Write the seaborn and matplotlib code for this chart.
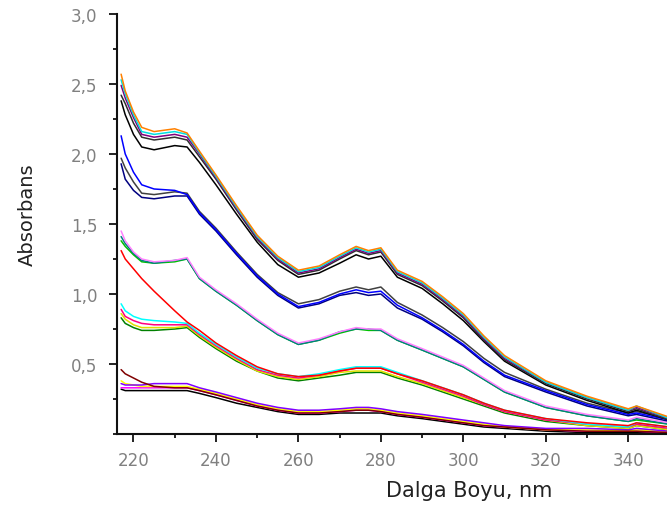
import pandas as pd
import seaborn as sns
import matplotlib
import matplotlib.pyplot as plt
from matplotlib.ticker import MultipleLocator

matplotlib.use("Agg")

# ─── data ─────────────────────────────────────────────────────────
WL = [217, 218, 220, 222, 225, 230, 233, 236, 240, 245, 250, 255, 260, 265, 270,
      274, 277, 280, 284, 290, 295, 300, 305, 310, 320, 330, 340, 342, 350]

# lowest group (~0.3-0.45 at 217 nm)
black_e   = [0.32, 0.31, 0.31, 0.31, 0.31, 0.31, 0.31, 0.29, 0.26, 0.22, 0.19, 0.16, 0.14, 0.14, 0.15,
             0.15, 0.15, 0.15, 0.13, 0.11, 0.09, 0.07, 0.05, 0.04, 0.02, 0.01, 0.01, 0.01, 0.01]
magenta_e = [0.33, 0.33, 0.33, 0.33, 0.33, 0.33, 0.33, 0.31, 0.28, 0.24, 0.20, 0.17, 0.15, 0.15, 0.16,
             0.17, 0.17, 0.16, 0.14, 0.12, 0.10, 0.08, 0.06, 0.05, 0.03, 0.02, 0.02, 0.02, 0.01]
yellow_e  = [0.38, 0.36, 0.35, 0.34, 0.34, 0.34, 0.34, 0.32, 0.29, 0.25, 0.21, 0.18, 0.16, 0.16, 0.17,
             0.18, 0.18, 0.17, 0.15, 0.13, 0.11, 0.09, 0.07, 0.05, 0.03, 0.03, 0.02, 0.03, 0.02]
violet_e  = [0.36, 0.35, 0.35, 0.35, 0.36, 0.36, 0.36, 0.33, 0.30, 0.26, 0.22, 0.19, 0.17, 0.17, 0.18,
             0.19, 0.19, 0.18, 0.16, 0.14, 0.12, 0.10, 0.08, 0.06, 0.04, 0.04, 0.03, 0.04, 0.02]
brown_e   = [0.46, 0.43, 0.40, 0.37, 0.34, 0.33, 0.33, 0.31, 0.28, 0.24, 0.20, 0.17, 0.15, 0.15, 0.16,
             0.17, 0.17, 0.16, 0.14, 0.12, 0.10, 0.08, 0.06, 0.05, 0.03, 0.02, 0.02, 0.02, 0.01]

# ~0.9 group
green_d   = [0.83, 0.79, 0.76, 0.74, 0.74, 0.75, 0.76, 0.69, 0.61, 0.52, 0.45, 0.40, 0.38, 0.40, 0.42,
             0.44, 0.44, 0.44, 0.40, 0.35, 0.30, 0.25, 0.20, 0.15, 0.09, 0.06, 0.04, 0.06, 0.03]
yellow_d  = [0.86, 0.82, 0.78, 0.76, 0.76, 0.76, 0.77, 0.70, 0.62, 0.53, 0.45, 0.41, 0.39, 0.41, 0.44,
             0.45, 0.45, 0.45, 0.41, 0.36, 0.31, 0.26, 0.21, 0.16, 0.10, 0.06, 0.04, 0.06, 0.03]
magenta_d = [0.89, 0.84, 0.81, 0.79, 0.78, 0.78, 0.78, 0.71, 0.63, 0.54, 0.46, 0.42, 0.40, 0.42, 0.45,
             0.47, 0.47, 0.47, 0.43, 0.37, 0.32, 0.27, 0.21, 0.16, 0.10, 0.07, 0.05, 0.07, 0.04]
cyan_d    = [0.93, 0.88, 0.84, 0.82, 0.81, 0.80, 0.79, 0.72, 0.64, 0.55, 0.47, 0.43, 0.41, 0.43, 0.46,
             0.48, 0.48, 0.48, 0.44, 0.38, 0.33, 0.28, 0.22, 0.17, 0.11, 0.07, 0.05, 0.08, 0.05]
red       = [1.31, 1.25, 1.18, 1.11, 1.02, 0.88, 0.80, 0.74, 0.65, 0.56, 0.48, 0.43, 0.41, 0.42, 0.45,
             0.47, 0.47, 0.47, 0.43, 0.38, 0.33, 0.28, 0.22, 0.17, 0.11, 0.08, 0.06, 0.08, 0.05]

# ~1.4 group
green_c   = [1.38, 1.34, 1.28, 1.23, 1.22, 1.23, 1.25, 1.11, 1.02, 0.92, 0.81, 0.71, 0.64, 0.67, 0.72,
             0.75, 0.74, 0.74, 0.67, 0.60, 0.54, 0.48, 0.39, 0.30, 0.19, 0.13, 0.09, 0.10, 0.07]
teal_c    = [1.41, 1.36, 1.29, 1.24, 1.22, 1.24, 1.25, 1.11, 1.02, 0.92, 0.81, 0.71, 0.64, 0.67, 0.73,
             0.75, 0.75, 0.74, 0.67, 0.60, 0.54, 0.48, 0.39, 0.30, 0.19, 0.13, 0.09, 0.11, 0.07]
pink_c    = [1.45, 1.38, 1.30, 1.25, 1.23, 1.24, 1.26, 1.12, 1.03, 0.93, 0.82, 0.72, 0.65, 0.68, 0.73,
             0.76, 0.75, 0.75, 0.68, 0.61, 0.55, 0.49, 0.40, 0.31, 0.20, 0.14, 0.10, 0.12, 0.08]

# ~2.0 group
navy_b    = [1.93, 1.82, 1.74, 1.69, 1.68, 1.70, 1.70, 1.57, 1.45, 1.28, 1.12, 0.99, 0.90, 0.93, 0.99,
             1.01, 0.99, 1.00, 0.90, 0.82, 0.73, 0.63, 0.51, 0.41, 0.30, 0.20, 0.13, 0.14, 0.09]
gray_b    = [1.97, 1.90, 1.80, 1.72, 1.71, 1.73, 1.72, 1.59, 1.47, 1.30, 1.14, 1.01, 0.93, 0.96, 1.02,
             1.05, 1.03, 1.05, 0.94, 0.85, 0.76, 0.66, 0.54, 0.44, 0.32, 0.22, 0.15, 0.16, 0.11]
blue_b    = [2.13, 2.00, 1.87, 1.78, 1.75, 1.74, 1.71, 1.58, 1.46, 1.29, 1.13, 1.00, 0.91, 0.94, 1.00,
             1.03, 1.01, 1.02, 0.92, 0.83, 0.74, 0.64, 0.52, 0.42, 0.31, 0.21, 0.14, 0.15, 0.10]

# top group (~2.5)
black_a2  = [2.38, 2.28, 2.14, 2.05, 2.03, 2.06, 2.05, 1.94, 1.78, 1.57, 1.37, 1.21, 1.12, 1.15, 1.22,
             1.28, 1.25, 1.27, 1.12, 1.04, 0.93, 0.81, 0.66, 0.52, 0.35, 0.24, 0.15, 0.17, 0.10]
black_a1  = [2.42, 2.36, 2.22, 2.12, 2.10, 2.12, 2.10, 1.98, 1.82, 1.60, 1.39, 1.24, 1.14, 1.17, 1.25,
             1.31, 1.28, 1.30, 1.14, 1.06, 0.95, 0.83, 0.67, 0.53, 0.36, 0.25, 0.16, 0.18, 0.10]
purple_a  = [2.49, 2.40, 2.26, 2.14, 2.12, 2.14, 2.12, 2.00, 1.83, 1.61, 1.40, 1.25, 1.15, 1.18, 1.26,
             1.32, 1.29, 1.31, 1.15, 1.07, 0.96, 0.84, 0.68, 0.54, 0.37, 0.26, 0.17, 0.19, 0.11]
cyan_a    = [2.53, 2.43, 2.28, 2.16, 2.14, 2.16, 2.14, 2.01, 1.84, 1.62, 1.41, 1.26, 1.16, 1.19, 1.27,
             1.33, 1.30, 1.32, 1.16, 1.08, 0.97, 0.85, 0.69, 0.55, 0.37, 0.26, 0.17, 0.20, 0.11]
orange_a  = [2.57, 2.45, 2.30, 2.19, 2.16, 2.18, 2.15, 2.02, 1.85, 1.63, 1.42, 1.27, 1.17, 1.20, 1.28,
             1.34, 1.31, 1.33, 1.17, 1.09, 0.98, 0.86, 0.70, 0.56, 0.38, 0.27, 0.18, 0.20, 0.12]

X_TICKS = [220, 240, 260, 280, 300, 320, 340]
Y_TICKS = [0.5, 1.0, 1.5, 2.0, 2.5, 3.0]
Y_TICK_LABELS = ["0,5", "1,0", "1,5", "2,0", "2,5", "3,0"]

# ─── curves & colours (drawing order: bottom to top) ──────────────
SERIES = {
    "black_e": (black_e, "#000000"), "magenta_e": (magenta_e, "#FF00FF"),
    "yellow_e": (yellow_e, "#FFFF00"), "violet_e": (violet_e, "#8000FF"),
    "brown_e": (brown_e, "#800000"),
    "green_d": (green_d, "#008000"), "yellow_d": (yellow_d, "#E0E000"),
    "magenta_d": (magenta_d, "#FF0080"), "cyan_d": (cyan_d, "#00FFFF"),
    "red": (red, "#FF0000"),
    "green_c": (green_c, "#00C000"), "teal_c": (teal_c, "#008080"),
    "pink_c": (pink_c, "#FF80FF"),
    "navy_b": (navy_b, "#000080"), "gray_b": (gray_b, "#404040"),
    "blue_b": (blue_b, "#0000FF"),
    "black_a2": (black_a2, "#000000"), "black_a1": (black_a1, "#303030"),
    "purple_a": (purple_a, "#800080"), "cyan_a": (cyan_a, "#00E0E0"),
    "orange_a": (orange_a, "#FF8000"),
}

df = pd.concat(
    [pd.DataFrame({"nm": WL, "abs": vals, "curve": name}) for name, (vals, _) in SERIES.items()],
    ignore_index=True,
)
ORDER = list(SERIES)
PALETTE = {name: col for name, (_, col) in SERIES.items()}

# ─── style ────────────────────────────────────────────────────────
sns.set_style("ticks")
plt.rcParams["font.family"] = ["DejaVu Sans"]

fig = plt.figure(figsize=(6.67, 5.06), dpi=100)
ax = fig.add_axes([0.1754, 0.1403, 0.8246, 0.8301])

sns.lineplot(data=df, x="nm", y="abs", hue="curve", hue_order=ORDER, palette=PALETTE,
             estimator=None, sort=False, linewidth=1.1, legend=False, ax=ax)

ax.set_xlim(216, 349.4)
ax.set_ylim(0, 3.0)
ax.set_xticks(X_TICKS)
ax.xaxis.set_minor_locator(MultipleLocator(10))
ax.set_yticks(Y_TICKS, Y_TICK_LABELS)
ax.yaxis.set_minor_locator(MultipleLocator(0.25))

sns.despine(ax=ax)
for side in ("left", "bottom"):
    ax.spines[side].set_linewidth(1.5)
    ax.spines[side].set_color("#111111")

ax.tick_params(which="major", length=6, width=1.3, color="#111111",
               labelsize=12, labelcolor="#808080")
ax.tick_params(which="minor", length=3, width=1.3, color="#111111")
ax.tick_params(axis="x", which="major", pad=6)
ax.tick_params(axis="y", which="major", pad=8)

ax.set_xlabel("Dalga Boyu, nm", fontsize=15, color="#222222")
ax.set_ylabel("Absorbans", fontsize=14, color="#222222")
ax.xaxis.set_label_coords(0.641, -0.1095)
ax.yaxis.set_label_coords(-0.145, 0.524)

fig.savefig("out.png", dpi=100)
plt.close(fig)
